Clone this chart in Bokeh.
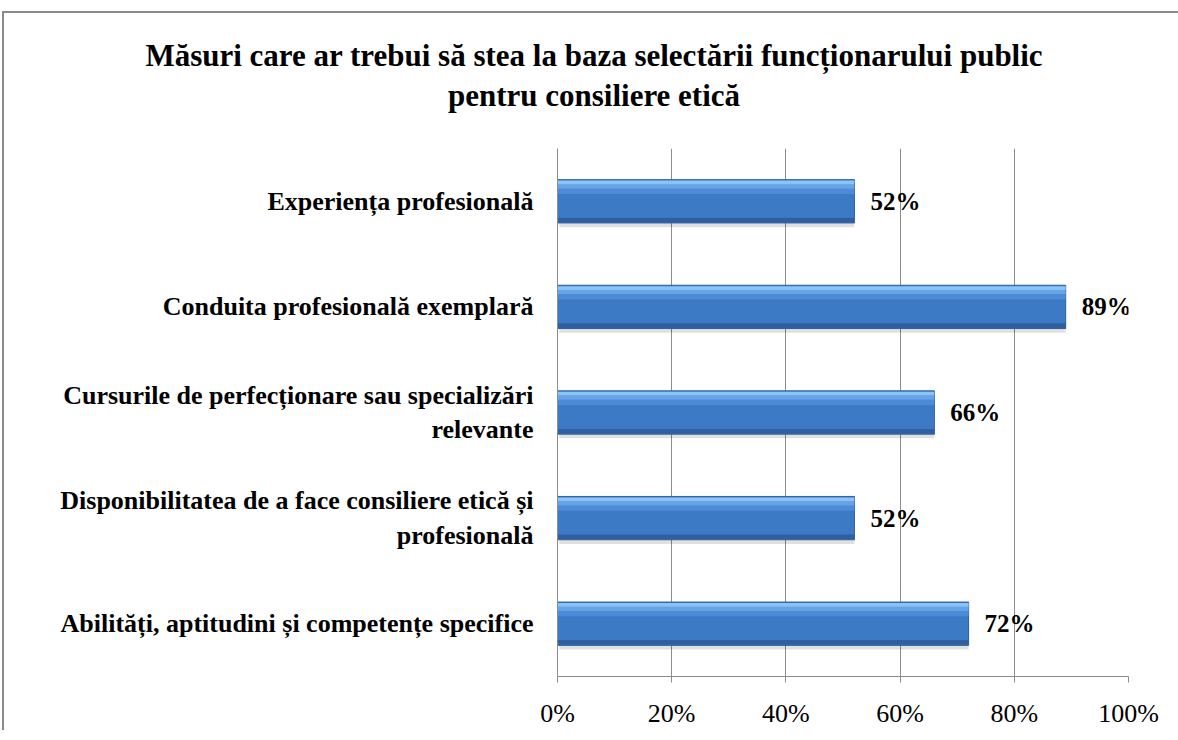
from bokeh.plotting import figure
from bokeh.models import ColumnDataSource, LabelSet, FactorRange, Range1d, FixedTicker, PrintfTickFormatter, Div
from bokeh.layouts import column
from bokeh.transform import dodge
from bokeh.core.properties import value
from bokeh.embed import file_html
from bokeh.resources import INLINE

title_lines = ["Măsuri care ar trebui să stea la baza selectării funcționarului public",
               "pentru consiliere etică"]
categories = [
    "Abilități, aptitudini și competențe specifice",
    "Disponibilitatea de a face consiliere etică și\nprofesională",
    "Cursurile de perfecționare sau specializări\nrelevante",
    "Conduita profesională exemplară",
    "Experiența profesională",
]
values = [72, 52, 66, 89, 52]
labels = [f"{v}%" for v in values]
x_ticks = [0, 20, 40, 60, 80, 100]

SERIF = "Liberation Serif"

src = ColumnDataSource(dict(cat=categories, val=values, lab=labels))

title = Div(text="<br>".join(title_lines), width=1170, height=115,
            styles={"font-family": SERIF, "font-weight": "bold", "font-size": "31px",
                    "line-height": "40px", "text-align": "center", "padding-top": "18px",
                    "color": "black"})

p = figure(width=1170, height=592, y_range=FactorRange(*categories), x_range=Range1d(0, 100),
           output_backend="svg", toolbar_location=None,
           min_border_left=553, min_border_top=10, min_border_right=46, min_border_bottom=48)
p.background_fill_color = "white"
p.border_fill_color = "white"
p.outline_line_color = None

# bars: shadow, base, bevel bands
p.hbar(y=dodge("cat", -0.04, range=p.y_range), right="val", left=0.3, height=0.41, source=src,
       fill_color="black", fill_alpha=0.12, line_color=None)
p.hbar(y="cat", right="val", left=0, height=0.41, source=src,
       fill_color="#3d7ac6", line_color="#2e5e9b", line_width=1)
p.hbar(y=dodge("cat", 0.095, range=p.y_range), right="val", left=0, height=0.05, source=src,
       fill_color="#4e8bd7", line_color=None)
p.hbar(y=dodge("cat", 0.14, range=p.y_range), right="val", left=0, height=0.04, source=src,
       fill_color="#67a3e7", line_color=None)
p.hbar(y=dodge("cat", 0.178, range=p.y_range), right="val", left=0, height=0.036, source=src,
       fill_color="#8cc3f6", line_color=None)
p.hbar(y=dodge("cat", -0.178, range=p.y_range), right="val", left=0, height=0.045, source=src,
       fill_color="#2f5f9e", line_color=None)

p.add_layout(LabelSet(x="val", y="cat", text="lab", source=src, x_offset=16,
                      text_baseline="middle", text_align="left",
                      text_font=value(SERIF), text_font_style="bold",
                      text_font_size="25px", text_color="black"))

# axes
p.xaxis.ticker = FixedTicker(ticks=x_ticks)
p.xaxis.formatter = PrintfTickFormatter(format="%d%%")
p.xaxis.axis_line_color = "#8c8c8c"
p.xaxis.major_tick_line_color = "#8c8c8c"
p.xaxis.major_tick_out = 6
p.xaxis.major_tick_in = 0
p.xaxis.minor_tick_line_color = None
p.xaxis.major_label_standoff = 16
p.xaxis.major_label_text_font = SERIF
p.xaxis.major_label_text_font_size = "26px"
p.xaxis.major_label_text_color = "black"

p.yaxis.axis_line_color = "#8c8c8c"
p.yaxis.major_tick_line_color = None
p.yaxis.minor_tick_line_color = None
p.yaxis.major_label_standoff = 18
p.yaxis.major_label_text_font = SERIF
p.yaxis.major_label_text_font_style = "bold"
p.yaxis.major_label_text_font_size = "26px"
p.yaxis.major_label_text_color = "black"

p.xgrid.ticker = FixedTicker(ticks=x_ticks)
p.xgrid.grid_line_color = "#8c8c8c"
p.ygrid.grid_line_color = None

layout = column(title, p, spacing=0,
                styles={"margin-left": "2px", "margin-top": "11px",
                        "border-top": "2px solid #8a8a8a", "border-left": "2px solid #8a8a8a"})

open("out.html", "w").write(file_html(layout, INLINE))
